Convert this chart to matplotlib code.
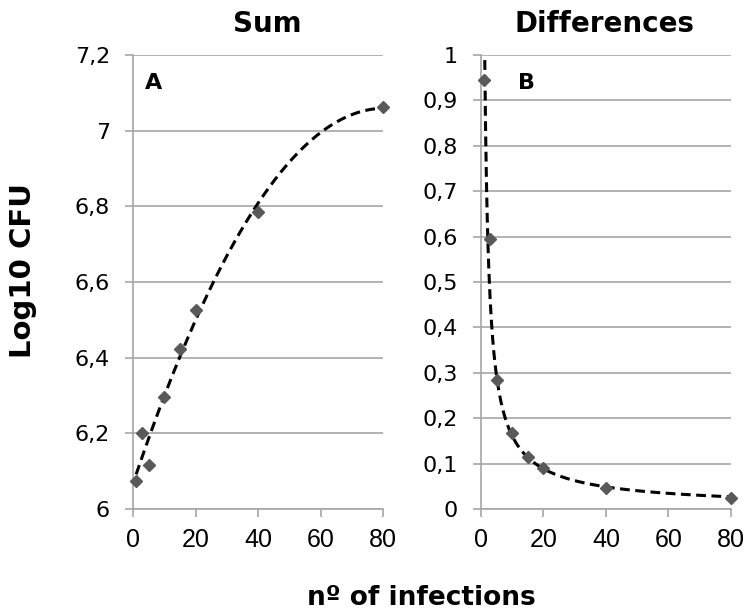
import matplotlib.pyplot as plt
import numpy as np
from matplotlib.ticker import FuncFormatter

# data
infections = [1, 3, 5, 10, 15, 20, 40, 80]
sum_cfu = [6.074, 6.202, 6.116, 6.296, 6.424, 6.526, 6.784, 7.063]
diff_cfu = [0.945, 0.594, 0.284, 0.167, 0.115, 0.091, 0.047, 0.025]

x_ticks = [0, 20, 40, 60, 80]
sum_ticks = [6, 6.2, 6.4, 6.6, 6.8, 7, 7.2]
diff_ticks = [0, 0.1, 0.2, 0.3, 0.4, 0.5, 0.6, 0.7, 0.8, 0.9, 1]

plt.rcParams['font.family'] = ['DejaVu Sans']

GRID = '#a6a6a6'
MARK = '#595959'
DASH = (0, (3.2, 1.8))


def comma_fmt(v, pos):
    s = f'{v:.1f}'.rstrip('0').rstrip('.')
    return s.replace('.', ',')


def style_axes(ax, yticks, ylim):
    ax.set_xlim(0, 80)
    ax.set_ylim(*ylim)
    ax.set_xticks(x_ticks)
    ax.set_yticks(yticks)
    ax.yaxis.set_major_formatter(FuncFormatter(comma_fmt))
    ax.grid(axis='y', color=GRID, linewidth=1.2)
    ax.set_axisbelow(True)
    for side in ['top', 'right']:
        ax.spines[side].set_visible(False)
    for side in ['left', 'bottom']:
        ax.spines[side].set_color(GRID)
        ax.spines[side].set_linewidth(1.2)
    ax.tick_params(axis='both', colors=GRID, labelcolor='black',
                   length=6, width=1.2, direction='out')
    ax.tick_params(axis='x', pad=8, labelsize=18, labelfontfamily='Liberation Sans')
    ax.tick_params(axis='y', pad=10.5, labelsize=16)


fig = plt.figure(figsize=(7.52, 6.14), dpi=100)
ax1 = fig.add_axes([0.1769, 0.171, 0.3324, 0.7394])
ax2 = fig.add_axes([0.6396, 0.171, 0.3324, 0.7394])

x = np.array(infections, dtype=float)

# panel A: polynomial (order 2) trend line
coef = np.polyfit(x, sum_cfu, 2)
xs = np.linspace(1, 80, 300)
ax1.plot(xs, np.polyval(coef, xs), color='black', linestyle=DASH, linewidth=2.2, zorder=3)
ax1.plot(x, sum_cfu, 'D', color=MARK, markersize=6, zorder=4, clip_on=False)
style_axes(ax1, sum_ticks, (6, 7.2))
ax1.text(0.048, 0.96, 'A', transform=ax1.transAxes, fontsize=16, fontweight='bold',
         va='top', ha='left')

# panel B: power trend line
b, loga = np.polyfit(np.log(x), np.log(diff_cfu), 1)
xs2 = np.linspace(0.8, 80, 600)
ax2.plot(xs2, np.exp(loga) * xs2 ** b, color='black', linestyle=DASH, linewidth=2.2, zorder=3)
ax2.plot(x, diff_cfu, 'D', color=MARK, markersize=6, zorder=4, clip_on=False)
style_axes(ax2, diff_ticks, (0, 1))
ax2.text(0.148, 0.96, 'B', transform=ax2.transAxes, fontsize=16, fontweight='bold',
         va='top', ha='left')

# titles and shared labels
fig.text(0.355, 0.948, 'Sum', fontsize=20, fontweight='bold', ha='center', va='baseline')
fig.text(0.8045, 0.948, 'Differences', fontsize=20, fontweight='bold', ha='center', va='baseline')
fig.text(0.030, 0.560, 'Log10 CFU', fontsize=21, fontweight='bold', rotation=90,
         ha='center', va='center')
fig.text(0.56, 0.0147, 'nº of infections', fontsize=19, fontweight='bold',
         ha='center', va='baseline')

plt.savefig('out.png', dpi=100)
